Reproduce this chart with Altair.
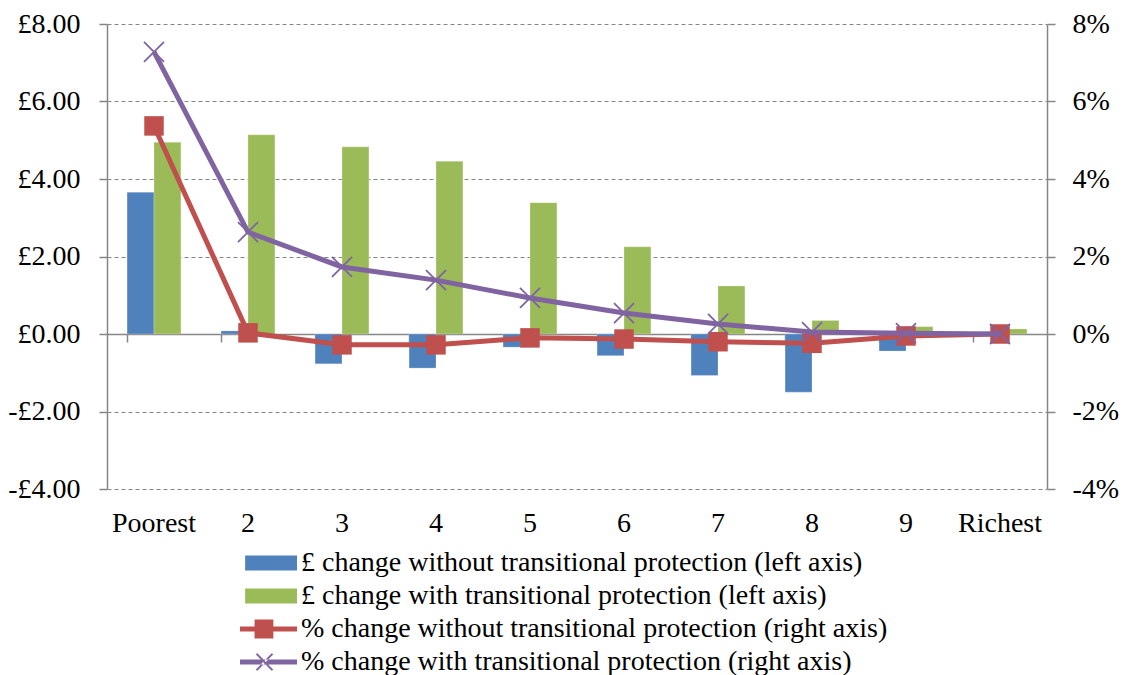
import altair as alt
import pandas as pd

categories = ["Poorest", "2", "3", "4", "5", "6", "7", "8", "9", "Richest"]
gbp_without = [3.66, 0.08, -0.77, -0.88, -0.34, -0.56, -1.07, -1.50, -0.44, -0.03]
gbp_with = [4.95, 5.14, 4.83, 4.46, 3.39, 2.25, 1.24, 0.35, 0.19, 0.13]
pct_without = [5.37, 0.03, -0.28, -0.28, -0.10, -0.13, -0.20, -0.24, -0.05, 0.00]
pct_with = [7.28, 2.63, 1.73, 1.39, 0.93, 0.54, 0.26, 0.05, 0.02, 0.00]

series_names = [
    "£ change without transitional protection (left axis)",
    "£ change with transitional protection (left axis)",
    "% change without transitional protection (right axis)",
    "% change with transitional protection (right axis)",
]
series_colors = ["#4F81BD", "#9BBB59", "#C0504D", "#8064A2"]

FONT = "Liberation Serif"
GRID = "#868686"

bars_df = pd.DataFrame({
    "cat": categories * 2,
    "series": [series_names[0]] * 10 + [series_names[1]] * 10,
    "value": gbp_without + gbp_with,
})
lines_df = pd.DataFrame({"cat": categories, "pw": pct_without, "pp": pct_with})

rect_sym = "M-0.82,-0.26H1V0.26H-0.82Z"
line_part = "M-1,-0.09H1V0.09H-1Z"
sq_sym = line_part + "M-0.49,-0.33H0.17V0.33H-0.49Z"
x_sym = (line_part
         + "M-0.39,-0.31L0.17,0.27L0.11,0.31L-0.45,-0.27Z"
         + "M-0.39,0.31L0.17,-0.27L0.11,-0.31L-0.45,0.27Z")

x_scale = alt.Scale(domain=categories, paddingInner=0.427, paddingOuter=0.2135)
color_scale = alt.Scale(domain=series_names, range=series_colors)
y_scale = alt.Scale(domain=[-4, 8], nice=False, zero=False)
x_plain = alt.X("cat:N", sort=categories, scale=x_scale, axis=None)

leg = dict(title=None, orient="none", legendX=133, legendY=525, direction="vertical",
           symbolSize=3249, symbolStrokeWidth=0, symbolOpacity=1, labelFont=FONT,
           labelFontSize=28, labelColor="black", labelLimit=1000, rowPadding=5,
           clipHeight=28, labelOffset=4, padding=0)

legend_layer = alt.Chart(bars_df).mark_point(
    filled=True, size=0
).encode(
    x=x_plain,
    y=alt.Y("value:Q", scale=y_scale, axis=None),
    color=alt.Color("series:N", scale=color_scale, legend=alt.Legend(**leg)),
    shape=alt.Shape("series:N", scale=alt.Scale(domain=series_names,
                    range=[rect_sym, rect_sym, sq_sym, x_sym]), legend=alt.Legend(**leg)),
)

bars = alt.Chart(bars_df).mark_bar(stroke="white", strokeWidth=0.4, strokeOpacity=0.6).encode(
    x=alt.X("cat:N", sort=categories, scale=x_scale,
            axis=alt.Axis(title=None, orient="bottom", domain=False, ticks=False, tickSize=0,
                          labelPadding=20, labelAngle=0, grid=False)),
    xOffset=alt.XOffset("series:N", sort=series_names[:2],
                        scale=alt.Scale(domain=series_names[:2], paddingInner=0, paddingOuter=0)),
    y=alt.Y("value:Q", scale=y_scale,
            axis=alt.Axis(title=None, orient="left", values=[-4, -2, 0, 2, 4, 6, 8],
                          labelExpr="(datum.value < 0 ? '-£' : '£') + format(abs(datum.value), '.2f')",
                          domain=True, domainColor=GRID, domainWidth=1.5,
                          ticks=True, tickColor=GRID, tickSize=8, tickWidth=1.5,
                          labelPadding=19, grid=True, gridColor=GRID, gridDash=[4, 3],
                          gridWidth=1)),
    color=alt.Color("series:N", scale=color_scale, legend=None),
)

red_line = alt.Chart(lines_df).mark_line(color="#C0504D", strokeWidth=5).encode(
    x=alt.X("cat:N", sort=categories, scale=x_scale,
            axis=alt.Axis(title=None, orient="bottom", offset=-155, labels=False,
                          domain=True, domainColor=GRID, domainWidth=1.5,
                          ticks=True, tickColor=GRID, tickSize=8, tickWidth=1.5,
                          bandPosition=0, grid=False)),
    y=alt.Y("pw:Q", scale=y_scale,
            axis=alt.Axis(title=None, orient="right", values=[-4, -2, 0, 2, 4, 6, 8],
                          labelExpr="datum.value + '%'",
                          domain=True, domainColor=GRID, domainWidth=1.5,
                          ticks=True, tickColor=GRID, tickSize=8, tickWidth=1.5,
                          labelPadding=17, grid=False)),
)
red_pts = alt.Chart(lines_df).mark_square(color="#C0504D", size=380, opacity=1).encode(
    x=x_plain, y=alt.Y("pw:Q", scale=y_scale, axis=None))
purple_line = alt.Chart(lines_df).mark_line(color="#8064A2", strokeWidth=5).encode(
    x=x_plain, y=alt.Y("pp:Q", scale=y_scale, axis=None))
purple_pts = alt.Chart(lines_df).mark_point(
    shape="M-1,-1L1,1M-1,1L1,-1", size=400, filled=False, color="#8064A2",
    strokeWidth=1.8, opacity=1
).encode(x=x_plain, y=alt.Y("pp:Q", scale=y_scale, axis=None))

chart = alt.layer(
    legend_layer, bars, red_line, red_pts, purple_line, purple_pts
).resolve_axis(
    x="independent", y="independent"
).properties(
    width=940, height=465,
    padding={"left": 99, "top": 16, "right": 74, "bottom": 187},
    autosize=alt.AutoSizeParams(type="none"),
).configure_view(stroke=None).configure_axis(
    labelFont=FONT, labelFontSize=28, labelColor="black"
)

chart.save("out.html", embed_options={"renderer": "svg", "actions": False})
